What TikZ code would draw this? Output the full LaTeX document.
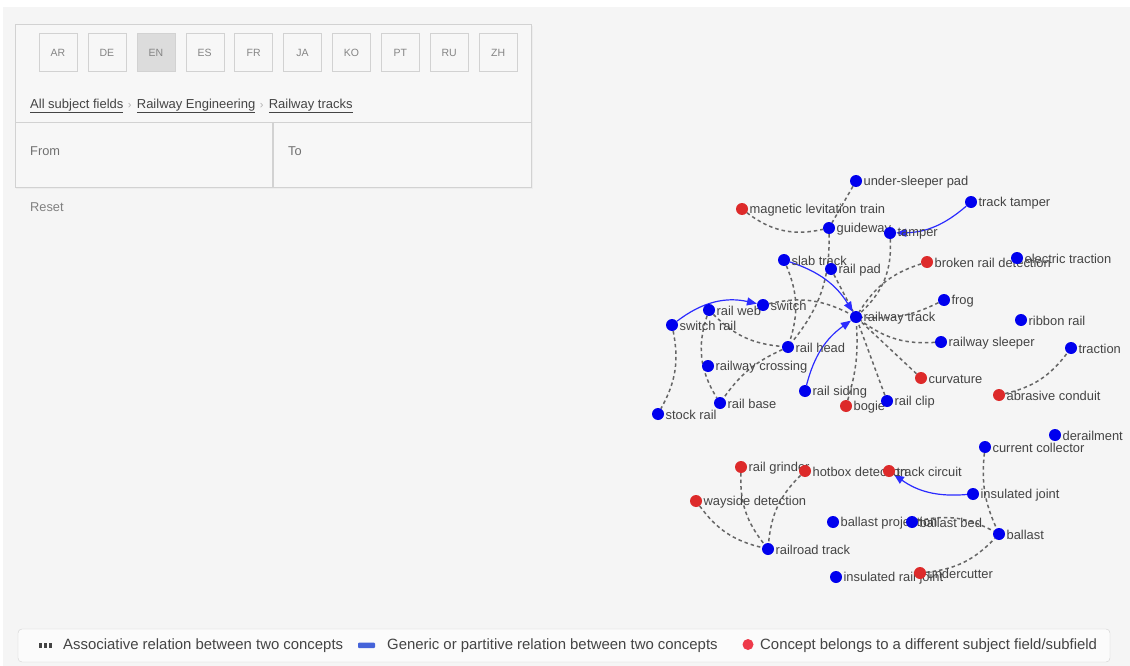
\documentclass[tikz,border=0pt]{standalone}
\usepackage{fontspec}
\setmainfont{Liberation Sans}
\usetikzlibrary{arrows.meta,positioning,backgrounds}
\definecolor{pagebg}{HTML}{F5F5F5}
\definecolor{panelbg}{HTML}{F7F7F7}
\definecolor{panelline}{HTML}{D2D2D2}
\definecolor{btnon}{HTML}{DCDCDC}
\definecolor{btntext}{HTML}{858585}
\definecolor{txtdark}{HTML}{444444}
\definecolor{txtmid}{HTML}{707070}
\definecolor{conceptblue}{HTML}{0000EE}
\definecolor{conceptred}{HTML}{DD2A2A}
\definecolor{assocgray}{HTML}{666666}
\definecolor{genblue}{HTML}{2B2BFF}
\definecolor{legendblue}{HTML}{4563D9}
\definecolor{legendred}{HTML}{EE3A4A}
\tikzset{
  concept/.style={circle, minimum size=12pt, inner sep=0pt},
  lbl/.style={font=\fontsize{12.9}{15}\selectfont, text=txtdark, inner sep=1.2pt, yshift=-1pt},
  bdot/.style={concept, fill=conceptblue, label={[lbl]0:#1}},
  rdot/.style={concept, fill=conceptred, label={[lbl]0:#1}},
  assoc/.style={draw=assocgray, line width=1.5pt, dash pattern=on 3.5pt off 3pt},
  gener/.style={draw=genblue, line width=1.2pt, -{Triangle[length=10pt,width=8pt]}},
  langbtn/.style={draw=panelline, minimum width=38pt, minimum height=38pt,
                  inner sep=0pt, font=\fontsize{10.5}{12}\selectfont, text=btntext},
  crumb/.style={inner sep=0pt, anchor=base west, font=\fontsize{13}{15}\selectfont, text=txtdark},
  crumbsep/.style={inner sep=0pt, font=\fontsize{11}{13}\selectfont, text=black!30},
  field/.style={inner sep=0pt, anchor=west, font=\fontsize{12.8}{15}\selectfont, text=txtmid},
  legtext/.style={inner sep=0pt, anchor=west, font=\fontsize{14.9}{17}\selectfont, text=txtdark}
}
\begin{document}
\begin{tikzpicture}[x=1pt,y=1pt]
  \useasboundingbox (0,0) rectangle (1130,-666);
  \begin{scope}[on background layer]
    \fill[white] (0,0) rectangle (1130,-666);
    \fill[pagebg] (3,-7) rectangle (1130,-666);
  \end{scope}

  % search panel
  \fill[black!7] (16,-26) rectangle (533,-189);
  \draw[panelline, fill=panelbg] (15,-24) rectangle (531,-187);
  \draw[panelline] (15,-122) -- (531,-122);
  \draw[panelline, line width=1.2pt] (273,-122) -- (273,-187);
  \foreach \lang/\shade [count=\i from 0] in {AR/panelbg,DE/panelbg,EN/btnon,ES/panelbg,FR/panelbg,
      JA/panelbg,KO/panelbg,PT/panelbg,RU/panelbg,ZH/panelbg}
    \node[langbtn, fill=\shade] (btn\lang) at ({58+48.9*\i},-52.5) {\lang};

  \node[crumb] (crAll) at (30,-108.5) {\underline{All subject fields}};
  \node[crumbsep, base right=4pt of crAll] (crSepA) {›};
  \node[crumb, base right=5pt of crSepA] (crRail) {\underline{Railway Engineering}};
  \node[crumbsep, base right=4pt of crRail] (crSepB) {›};
  \node[crumb, base right=5pt of crSepB] (crTrack) {\underline{Railway tracks}};

  \node[field] (from) at (30,-151) {From};
  \node[field] (to) at (288,-151) {To};
  \node[field, text=black!50] (reset) at (30,-207) {Reset};

  % concepts
  \node[bdot=under-sleeper pad] (usp) at (856,-181) {};
  \node[rdot=magnetic levitation train] (mlt) at (742,-209) {};
  \node[bdot=guideway] (guide) at (829,-228) {};
  \node[bdot=tamper] (tamper) at (890,-233) {};
  \node[bdot=track tamper] (ttamper) at (971,-202) {};
  \node[bdot=slab track] (slab) at (784,-260) {};
  \node[bdot=rail pad] (rpad) at (831,-269) {};
  \node[rdot=broken rail detection] (brd) at (927,-262) {};
  \node[bdot=electric traction] (etrac) at (1017,-258) {};
  \node[bdot=frog] (frog) at (944,-300) {};
  \node[bdot=railway track] (rtrack) at (856,-317) {};
  \node[bdot=rail web] (rweb) at (709,-310) {};
  \node[bdot=switch] (sw) at (763,-305) {};
  \node[bdot=switch rail] (srail) at (672,-325) {};
  \node[bdot=ribbon rail] (ribbon) at (1021,-320) {};
  \node[bdot=railway sleeper] (sleeper) at (941,-342) {};
  \node[bdot=rail head] (rhead) at (788,-347) {};
  \node[bdot=traction] (trac) at (1071,-348) {};
  \node[bdot=railway crossing] (rcross) at (708,-366) {};
  \node[rdot=curvature] (curv) at (921,-378) {};
  \node[bdot=rail siding] (siding) at (805,-391) {};
  \node[rdot=abrasive conduit] (abr) at (999,-395) {};
  \node[bdot=rail base] (rbase) at (720,-403) {};
  \node[rdot=bogie] (bogie) at (846,-406) {};
  \node[bdot=rail clip] (clip) at (887,-401) {};
  \node[bdot=stock rail] (stock) at (658,-414) {};
  \node[bdot=derailment] (derail) at (1055,-435) {};
  \node[bdot=current collector] (ccoll) at (985,-447) {};
  \node[rdot=rail grinder] (grind) at (741,-467) {};
  \node[rdot=hotbox detection] (hotbox) at (805,-471) {};
  \node[rdot=track circuit] (tcirc) at (889,-471) {};
  \node[bdot=insulated joint] (ijoint) at (973,-494) {};
  \node[rdot=wayside detection] (wayside) at (696,-501) {};
  \node[bdot=ballast projection] (bproj) at (833,-522) {};
  \node[bdot=ballast bed] (bbed) at (912,-522) {};
  \node[bdot=ballast] (ballast) at (999,-534) {};
  \node[bdot=railroad track] (rroad) at (768,-549) {};
  \node[bdot=insulated rail joint] (irj) at (836,-577) {};
  \node[rdot=undercutter] (ucut) at (920,-573) {};

  % relations
  \begin{scope}[on background layer]
    \draw[assoc] (mlt) to[bend right=25] (guide);
    \draw[assoc] (usp) -- (guide);
    \draw[assoc] (guide) to[bend left=20] (rhead);
    \draw[assoc] (slab) to[bend left=20] (rhead);
    \draw[assoc] (rpad) -- (rtrack);
    \draw[assoc] (tamper) to[bend left=25] (rtrack);
    \draw[assoc] (brd) to[bend right=20] (rtrack);
    \draw[assoc] (frog) to[bend left=15] (rtrack);
    \draw[assoc] (sleeper) to[bend left=20] (rtrack);
    \draw[assoc] (curv) -- (rtrack);
    \draw[assoc] (clip) -- (rtrack);
    \draw[assoc] (bogie) to[bend right=10] (rtrack);
    \draw[assoc] (sw) to[bend left=20] (rtrack);
    \draw[assoc] (rweb) to[bend right=20] (rhead);
    \draw[assoc] (rhead) to[bend right=15] (rbase);
    \draw[assoc] (rweb) to[bend right=25] (rbase);
    \draw[assoc] (srail) to[bend left=20] (stock);
    \draw[assoc] (abr) to[bend right=20] (trac);
    \draw[assoc] (grind) to[bend right=20] (rroad);
    \draw[assoc] (hotbox) to[bend right=20] (rroad);
    \draw[assoc] (wayside) to[bend right=20] (rroad);
    \draw[assoc] (ccoll) to[bend right=15] (ballast);
    \draw[assoc] (bbed) to[bend left=20] (ballast);
    \draw[assoc] (ucut) to[bend right=20] (ballast);
    \draw[gener] (slab) to[bend left=20] (rtrack);
    \draw[gener] (siding) to[bend left=20] (rtrack);
    \draw[gener] (ttamper) to[bend left=20] (tamper);
    \draw[gener] (srail) to[bend left=25] (sw);
    \draw[gener] (ijoint) to[bend left=20] (tcirc);
  \end{scope}

  % legend
  \draw[panelline, fill=white!60!pagebg, rounded corners=4pt] (18,-629) rectangle (1110,-662);
  \foreach \bx in {39,44,49}
    \fill[txtdark] (\bx,-642.5) rectangle ++(2.6,-5.5);
  \node[legtext] (legAssoc) at (63,-645.5) {Associative relation between two concepts};
  \fill[legendblue, rounded corners=1pt] (358,-642.5) rectangle (375,-648);
  \node[legtext] (legGener) at (387,-645.5) {Generic or partitive relation between two concepts};
  \fill[legendred] (748,-644.5) circle (5.5);
  \node[legtext] (legField) at (760,-645.5) {Concept belongs to a different subject field/subfield};
\end{tikzpicture}
\end{document}
